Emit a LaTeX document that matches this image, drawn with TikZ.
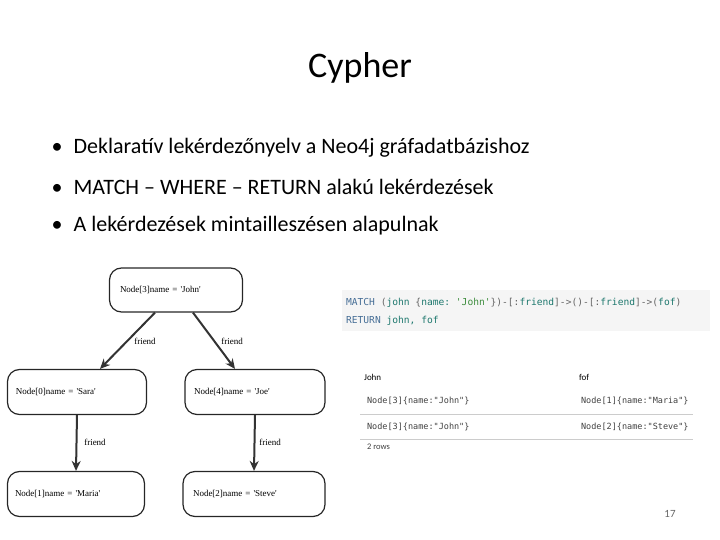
\documentclass[tikz,border=0pt]{standalone}
\usepackage{fontspec}
\setmainfont{Carlito}
\setmonofont{DejaVu Sans Mono}
\newfontfamily\graphfont{Liberation Serif}
\usetikzlibrary{arrows.meta}
\definecolor{kwblue}{RGB}{70,110,150}
\definecolor{idgreen}{RGB}{30,120,110}
\definecolor{strgreen}{RGB}{60,140,60}
\tikzset{every picture/.style={line width=0.75pt}}
\tikzset{
  gnode/.style={draw=black!85, line width=1.2pt, rounded corners=12pt, minimum width=138pt, minimum height=45pt, font=\fontsize{9}{10}\graphfont, text width=122pt, align=left},
  rel/.style={draw=black!80, line width=2pt, -{Stealth[length=10pt,width=9pt]}},
  rlab/.style={font=\fontsize{9}{10}\graphfont, inner sep=0.75pt},
  cell/.style={font=\fontsize{8.5}{10}\ttfamily, anchor=west, inner sep=0.75pt, text=black!75}
}
\begin{document}
\begin{tikzpicture}[x=1pt,y=1pt,yscale=-1,xscale=1]
\useasboundingbox (0,0) rectangle (720,540);

% Title and bullets
\node (title) at (360,68) [font=\fontsize{36}{40}\selectfont] {Cypher};
\node (b1) at (48,148) [anchor=west, font=\fontsize{22}{26}\selectfont] {•\hspace{11pt}Deklaratív lekérdezőnyelv a Neo4j gráfadatbázishoz};
\node (b2) at (48,187) [anchor=west, font=\fontsize{22}{26}\selectfont] {•\hspace{11pt}MATCH – WHERE – RETURN alakú lekérdezések};
\node (b3) at (48,226) [anchor=west, font=\fontsize{22}{26}\selectfont] {•\hspace{11pt}A lekérdezések mintailleszésen alapulnak};

% Graph
\node (john) at (176,290) [gnode, minimum width=133pt, minimum height=44pt, text width=112pt] {Node[3]name = 'John'};
\node (sara) at (77,392) [gnode, minimum width=139pt] {Node[0]name = 'Sara'};
\node (joe) at (255,392) [gnode, minimum width=140pt] {Node[4]name = 'Joe'};
\node (maria) at (76,494) [gnode, minimum width=137pt] {Node[1]name = 'Maria'};
\node (steve) at (254,494) [gnode, minimum width=142pt] {Node[2]name = 'Steve'};
\draw [rel] ([xshift=-21pt]john.south) -- ([xshift=23pt]sara.north);
\draw [rel] ([xshift=17pt]john.south) -- ([xshift=-20pt]joe.north);
\draw [rel] (sara.south) -- (maria.north);
\draw [rel] (joe.south) -- (steve.north);
\node (l1) at (145,341) [rlab] {friend};
\node (l2) at (232,341) [rlab] {friend};
\node (l3) at (95,442) [rlab] {friend};
\node (l4) at (270,442) [rlab] {friend};

% Query
\fill [black!4] (342,290) rectangle (710,331);
\node (q1) at (345,303) [cell, font=\fontsize{9.6}{11}\ttfamily] {\textcolor{kwblue}{MATCH} \textcolor{black!60}{(}\textcolor{idgreen}{john} \textcolor{black!60}{\{}\textcolor{idgreen}{name:} \textcolor{strgreen}{'John'}\textcolor{black!60}{\})-[:}\textcolor{idgreen}{friend}\textcolor{black!60}{]->()-[:}\textcolor{idgreen}{friend}\textcolor{black!60}{]->(}\textcolor{idgreen}{fof}\textcolor{black!60}{)}};
\node (q2) at (345,321) [cell, font=\fontsize{9.6}{11}\ttfamily] {\textcolor{kwblue}{RETURN} \textcolor{idgreen}{john, fof}};

% Result table
\node (hj) at (363,377) [anchor=west, font=\fontsize{9}{10}\selectfont, inner sep=0.75pt] {John};
\node (hf) at (578,377) [anchor=west, font=\fontsize{9}{10}\selectfont, inner sep=0.75pt] {fof};
\node (r1a) at (366,401) [cell] {Node[3]\{name:"John"\}};
\node (r1b) at (580,401) [cell] {Node[1]\{name:"Maria"\}};
\node (r2a) at (366,427) [cell] {Node[3]\{name:"John"\}};
\node (r2b) at (580,427) [cell] {Node[2]\{name:"Steve"\}};
\draw [black!20] (360,414) -- (693,414);
\draw [black!20] (360,439) -- (693,439);
\node (rows) at (366,447) [anchor=west, font=\fontsize{8.5}{10}\selectfont, inner sep=0.75pt, text=black!75] {2 rows};

% Page number
\node (page) at (670,514) [font=\fontsize{11}{13}\selectfont, text=black!60] {17};
\end{tikzpicture}
\end{document}
